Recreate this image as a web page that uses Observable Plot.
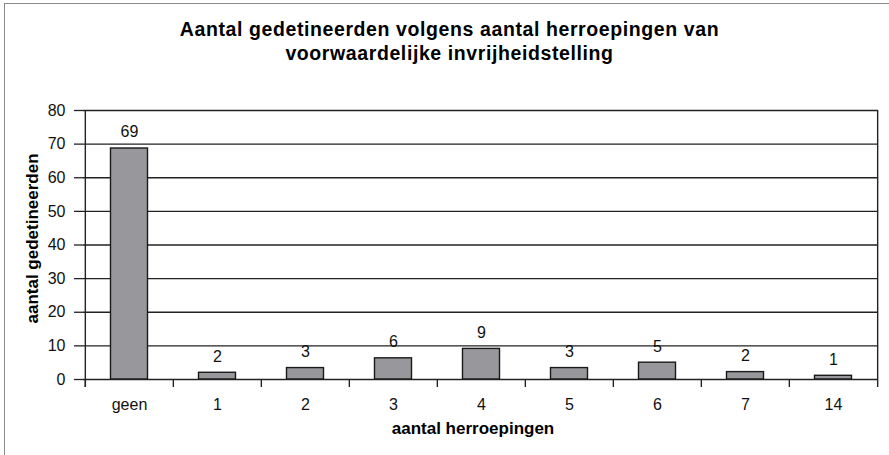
<!DOCTYPE html>
<html>
<head>
<meta charset="utf-8">
<script src="https://cdn.jsdelivr.net/npm/d3@7"></script>
<script src="https://cdn.jsdelivr.net/npm/@observablehq/plot@0.6"></script>
<style>
  html, body { margin: 0; padding: 0; background: #fff; }
  #wrap { position: relative; width: 889px; height: 455px; overflow: hidden; font-family: "Liberation Sans", Arial, sans-serif; }
  #frame { position: absolute; left: 4px; top: 3px; width: 900px; height: 470px; border-left: 1.5px solid #8a8a8a; border-top: 1.5px solid #8a8a8a; box-sizing: border-box; }
  #title { position: absolute; left: 5px; top: 18px; width: 889px; text-align: center; font-weight: bold; font-size: 19.5px; letter-spacing: 0.6px; line-height: 23.5px; color: #000; }
  #chart { position: absolute; left: 0; top: 0; }
</style>
</head>
<body>
<div id="wrap">
  <div id="chart"></div>
  <div id="frame"></div>
  <div id="title">Aantal gedetineerden volgens aantal herroepingen van<br>voorwaardelijke invrijheidstelling</div>
</div>
<script>
const categories = ["geen", "1", "2", "3", "4", "5", "6", "7", "14"];
const values = [68.7, 2.0, 3.4, 6.3, 9.1, 3.4, 5.0, 2.2, 1.1];
const labels = [69, 2, 3, 6, 9, 3, 5, 2, 1];
const yTicks = [0, 10, 20, 30, 40, 50, 60, 70, 80];
const xTitle = "aantal herroepingen";
const yTitle = "aantal gedetineerden";

const data = categories.map((c, i) => ({cat: c, value: values[i], label: labels[i]}));

const W = 889, H = 455, mL = 83, mR = 11, mT = 110, mB = 76;
const bw = (W - mL - mR) / categories.length;

const plot = Plot.plot({
  width: W,
  height: H,
  marginLeft: mL,
  marginRight: mR,
  marginTop: mT,
  marginBottom: mB,
  style: {fontFamily: "'Liberation Sans', Arial, sans-serif", fontSize: "16px", color: "#111", background: "transparent"},
  x: {domain: categories, padding: 0, axis: null},
  y: {domain: [0, 80], axis: null},
  marks: [
    Plot.ruleY(yTicks.filter(d => d > 0), {stroke: "#222", strokeWidth: 1.3}),
    Plot.barY(data, {x: "cat", y: "value", fill: "#98989c", stroke: "#1a1a1a", strokeWidth: 1.4, insetLeft: 25.5, insetRight: 25.5}),
    Plot.ruleY([0], {stroke: "#222", strokeWidth: 1.4}),
    Plot.ruleX([categories[0]], {dx: -bw / 2, stroke: "#222", strokeWidth: 1.4, insetBottom: -8}),
    Plot.ruleX([categories[categories.length - 1]], {dx: bw / 2, stroke: "#222", strokeWidth: 1.4, insetBottom: -8}),
    Plot.axisX({tickSize: 8, dx: -bw / 2, text: null, label: null, stroke: "#222", strokeWidth: 1.4}),
    Plot.axisX({tickSize: 0, tickPadding: 19, label: null, fontSize: 16, fill: "#111"}),
    Plot.axisY({ticks: yTicks, tickSize: 9, tickPadding: 9, label: null, fontSize: 16, fill: "#111", stroke: "#222", strokeWidth: 1.3}),
    Plot.text(data, {x: "cat", y: "value", text: d => String(d.label), dy: -11, lineAnchor: "bottom", fontSize: 16, fill: "#111"}),
    Plot.text([xTitle], {text: d => d, frameAnchor: "bottom", dx: -8, dy: 49, lineAnchor: "middle", textAnchor: "middle", fontWeight: "bold", fontSize: 17, fill: "#000"}),
    Plot.text([yTitle], {text: d => d, frameAnchor: "left", dx: -51, dy: -6.5, rotate: -90, lineAnchor: "middle", textAnchor: "middle", fontWeight: "bold", fontSize: 17, fill: "#000"})
  ]
});
document.getElementById("chart").appendChild(plot);
</script>
</body>
</html>
